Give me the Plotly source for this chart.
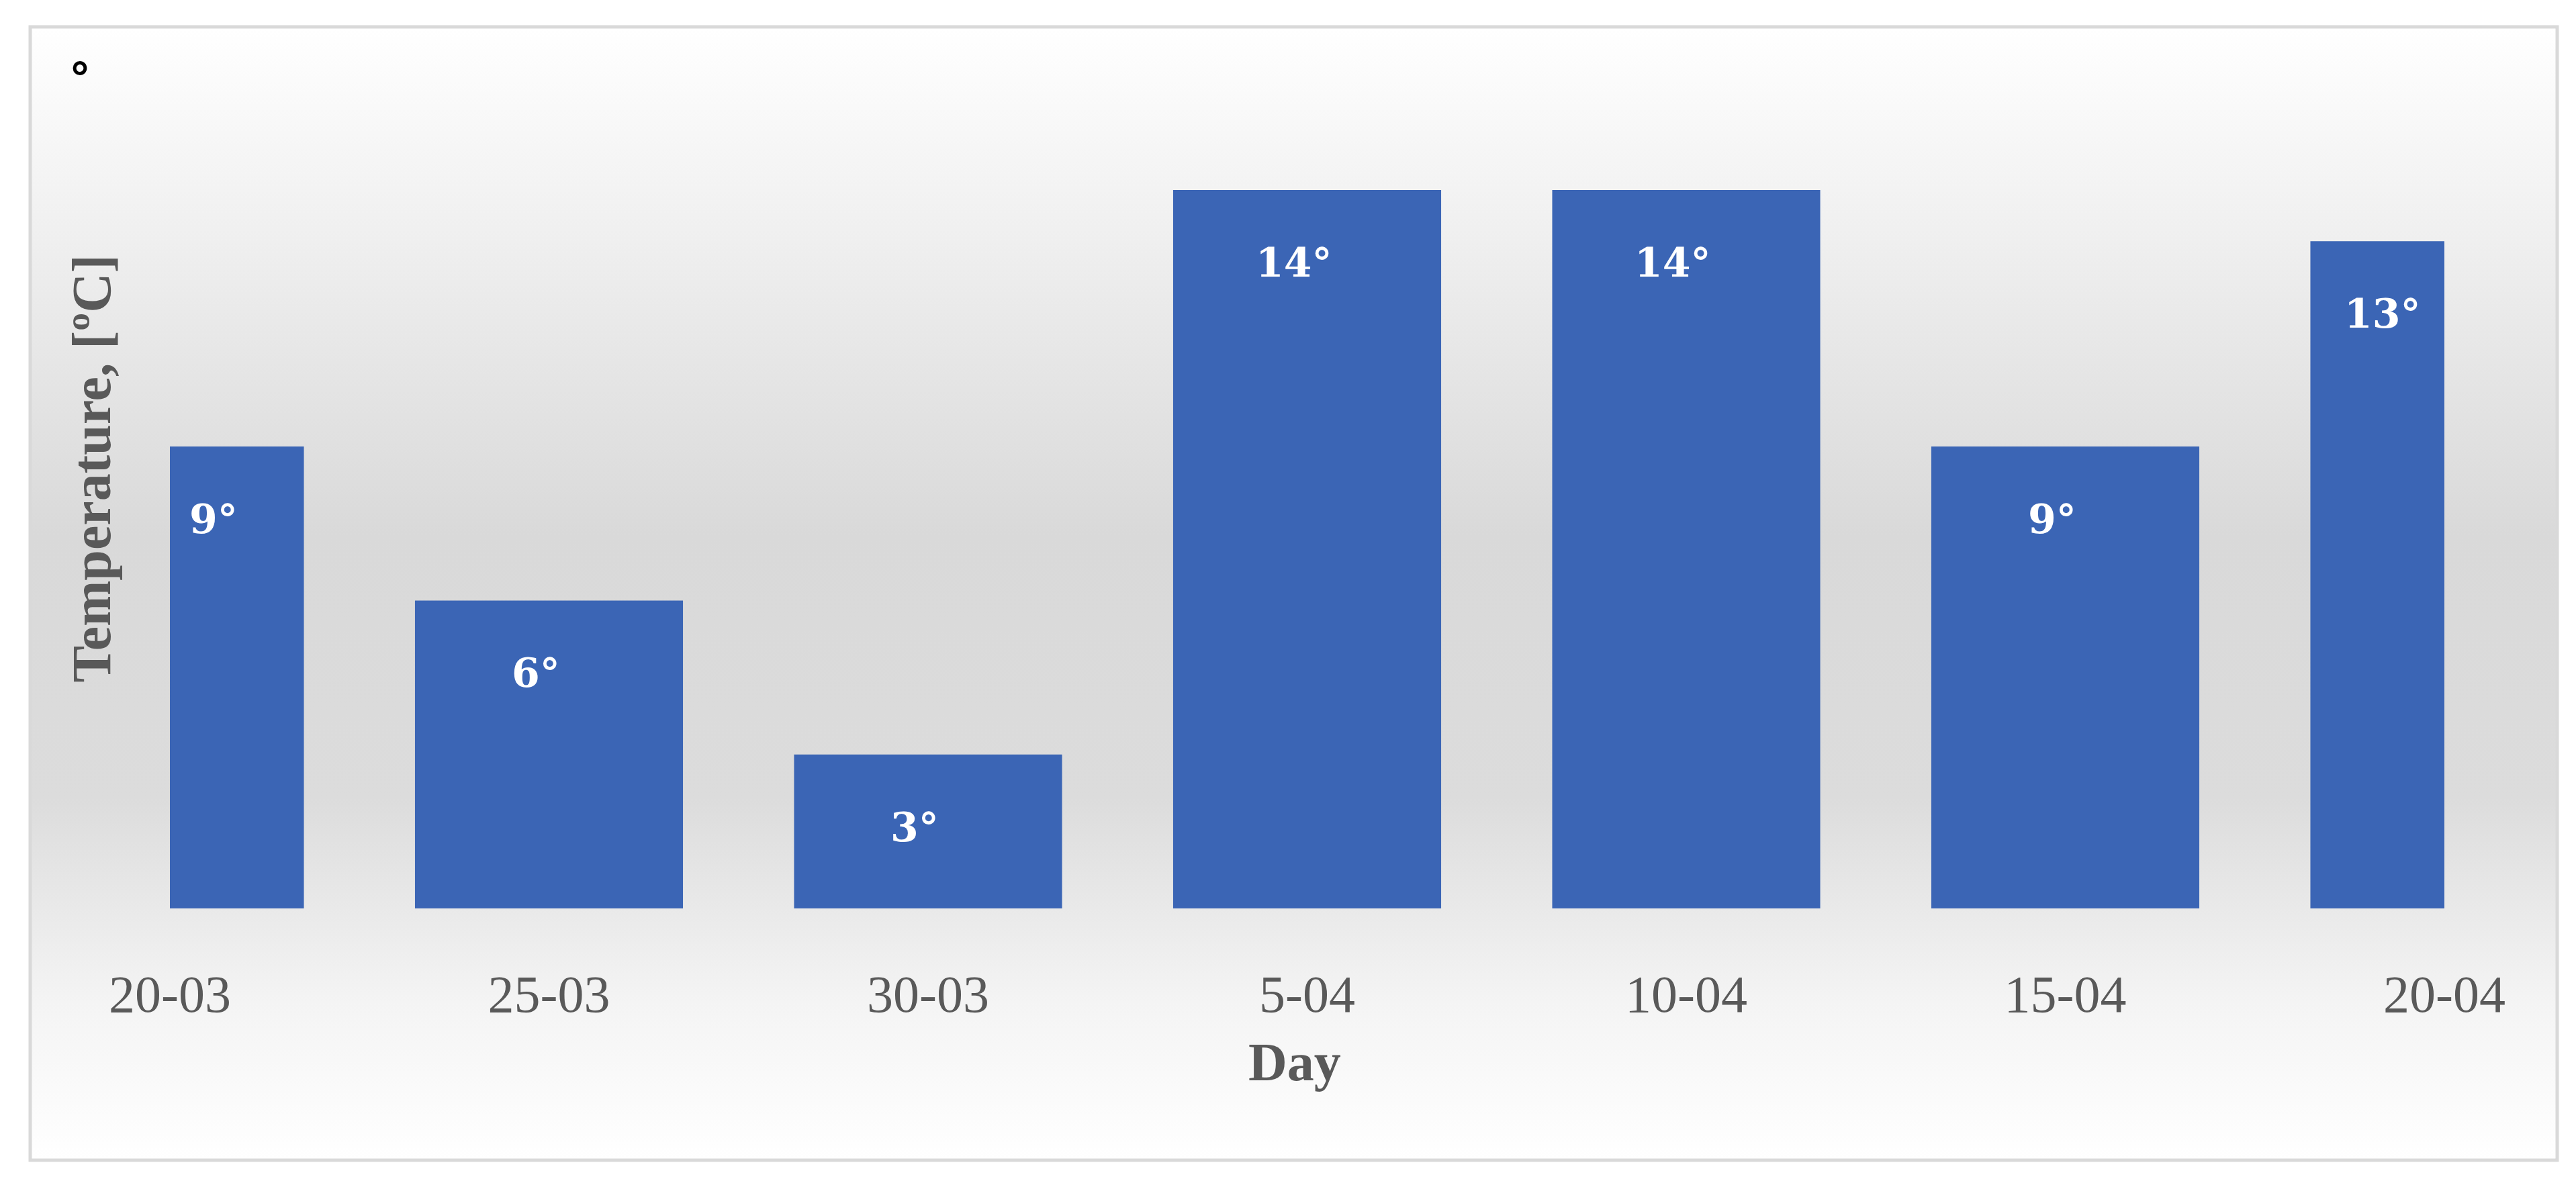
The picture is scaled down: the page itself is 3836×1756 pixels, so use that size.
import base64
import plotly.graph_objects as go

days = ["20-03", "25-03", "30-03", "5-04", "10-04", "15-04", "20-04"]
temps = [9, 6, 3, 14, 14, 9, 13]
labels = ["9°", "6°", "3°", "14°", "14°", "9°", "13°"]

W, H = 3836, 1756
L, R, T, B = 245, 204, 122, 411
pw, ph = W - L - R, H - T - B

def px(x):
    return (x - L) / pw

def py(y):
    return (H - B - y) / ph

svg = """<svg xmlns='http://www.w3.org/2000/svg' width='100' height='100' preserveAspectRatio='none'>
<defs><linearGradient id='g' x1='0' y1='0' x2='0' y2='1'>
<stop offset='0' stop-color='#ffffff'/><stop offset='0.45' stop-color='#d9d9d9'/>
<stop offset='0.68' stop-color='#dcdcdc'/><stop offset='0.86' stop-color='#f4f4f4'/>
<stop offset='1' stop-color='#ffffff'/></linearGradient></defs>
<rect width='100' height='100' fill='url(#g)'/></svg>"""
src = "data:image/svg+xml;base64," + base64.b64encode(svg.encode()).decode()

xs = list(range(len(days)))
fig = go.Figure(go.Bar(x=xs, y=temps, width=0.707,
                       marker=dict(color="#3b65b5", line=dict(width=0))))

bx0, bx1, by0, by1 = px(37), px(3800), py(32), py(1720)
fig.add_layout_image(source=src, xref="paper", yref="paper", x=bx0, y=by0,
                     sizex=bx1 - bx0, sizey=by0 - by1, sizing="stretch",
                     xanchor="left", yanchor="top", layer="below")
fig.add_shape(type="rect", xref="paper", yref="paper", x0=bx0, x1=bx1, y0=by1, y1=by0,
              line=dict(color="#d9d9d9", width=5), layer="above")

for i, (v, t) in enumerate(zip(temps, labels)):
    xshift = 65 if i == 0 else (-92 if i == len(days) - 1 else -20)
    fig.add_annotation(x=i, y=v, text="<b>%s</b>" % t, showarrow=False, yanchor="middle",
                       yshift=-108, xshift=xshift,
                       font=dict(family="DejaVu Serif", size=60, color="white"))

fig.add_annotation(xref="paper", yref="paper", x=px(1920), y=py(1620), text="<b>Day</b>",
                   showarrow=False, font=dict(family="Liberation Serif", size=80, color="#595959"))
fig.add_annotation(xref="paper", yref="paper", x=px(80), y=py(690), text="<b>Temperature, [ºC]</b>",
                   textangle=-90, showarrow=False,
                   font=dict(family="Liberation Serif", size=82, color="#595959"))
fig.add_annotation(xref="paper", yref="paper", x=px(93), y=py(70), text="<b>°</b>",
                   showarrow=False, font=dict(family="DejaVu Sans", size=64, color="black"))

fig.update_layout(
    width=W, height=H, margin=dict(l=L, r=R, t=T, b=B),
    paper_bgcolor="white", plot_bgcolor="rgba(0,0,0,0)", showlegend=False,
    xaxis=dict(range=[0, 6], tickvals=xs, ticktext=days, showgrid=False, zeroline=False,
               showline=False, ticks="", ticklabelstandoff=75,
               tickfont=dict(family="Liberation Serif", size=78, color="#595959")),
    yaxis=dict(range=[0, 16], showgrid=False, zeroline=False, showticklabels=False, showline=False),
)
fig.write_html("out.html")
